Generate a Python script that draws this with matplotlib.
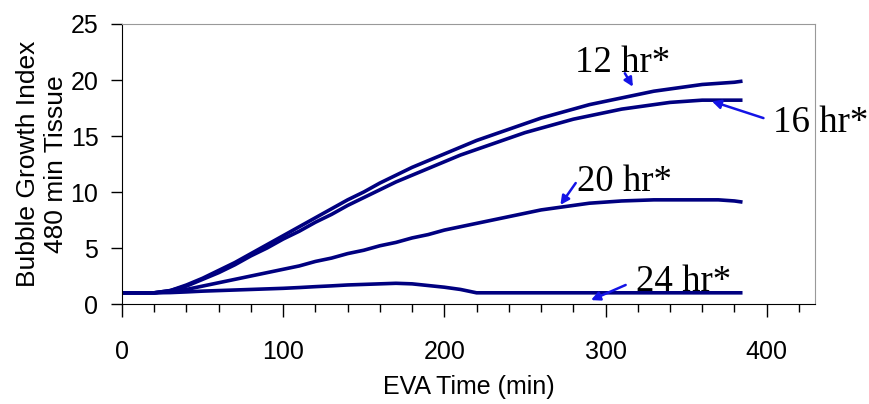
import numpy as np
import matplotlib
matplotlib.use("Agg")
import matplotlib.pyplot as plt
from matplotlib.ticker import MultipleLocator

# EVA time (min)
t = [0, 10, 20, 30, 40, 50, 60, 70, 80, 90, 100, 110, 120, 130, 140, 150, 160, 170, 180, 190,
     200, 210, 220, 230, 240, 250, 260, 270, 280, 290, 300, 310, 320, 330, 340, 350, 360, 370, 380, 385]

bgi_12 = [1.0, 1.0, 1.0, 1.2, 1.7, 2.3, 3.0, 3.7, 4.5, 5.3, 6.1, 6.9, 7.7, 8.5, 9.3, 10.0, 10.8, 11.5, 12.2, 12.8,
          13.4, 14.0, 14.6, 15.1, 15.6, 16.1, 16.6, 17.0, 17.4, 17.8, 18.1, 18.4, 18.7, 19.0, 19.2, 19.4, 19.6, 19.7, 19.8, 19.9]
bgi_16 = [1.0, 1.0, 1.0, 1.2, 1.6, 2.2, 2.8, 3.5, 4.3, 5.0, 5.8, 6.5, 7.3, 8.0, 8.8, 9.5, 10.2, 10.9, 11.5, 12.1,
          12.7, 13.3, 13.8, 14.3, 14.8, 15.3, 15.7, 16.1, 16.5, 16.8, 17.1, 17.4, 17.6, 17.8, 18.0, 18.1, 18.2, 18.2, 18.2, 18.2]
bgi_20 = [1.0, 1.0, 1.0, 1.1, 1.3, 1.6, 1.9, 2.2, 2.5, 2.8, 3.1, 3.4, 3.8, 4.1, 4.5, 4.8, 5.2, 5.5, 5.9, 6.2,
          6.6, 6.9, 7.2, 7.5, 7.8, 8.1, 8.4, 8.6, 8.8, 9.0, 9.1, 9.2, 9.25, 9.3, 9.3, 9.3, 9.3, 9.3, 9.2, 9.1]
bgi_24 = [1.0, 1.0, 1.0, 1.02, 1.08, 1.15, 1.2, 1.25, 1.3, 1.35, 1.4, 1.47, 1.55, 1.62, 1.7, 1.75, 1.8, 1.85, 1.8, 1.65,
          1.5, 1.3, 1.0, 1.0, 1.0, 1.0, 1.0, 1.0, 1.0, 1.0, 1.0, 1.0, 1.0, 1.0, 1.0, 1.0, 1.0, 1.0, 1.0, 1.0]

labels = ["12 hr*", "16 hr*", "20 hr*", "24 hr*"]
label_xy = [(281, 20.7), (404, 15.4), (282, 10.1), (319, 1.2)]
arrow_from = [(312, 20.6), (398, 16.6), (281.5, 10.8), (312.5, 1.7)]
arrow_to = [(317, 19.4), (366, 18.1), (272, 8.85), (291, 0.35)]

line_color = '#000080'
arrow_color = '#1414E6'

fig = plt.figure(figsize=(8.69, 4.04), dpi=100)
ax = fig.add_axes([0.1404, 0.2475, 0.7975, 0.6931])

for series in [bgi_12, bgi_16, bgi_20, bgi_24]:
    ax.plot(t, series, color=line_color, lw=2.6, solid_capstyle='butt')

for lab, (lx, ly), p0, p1 in zip(labels, label_xy, arrow_from, arrow_to):
    ax.text(lx, ly, lab, fontsize=26.5, family='Liberation Serif', ha='left', va='baseline')
    ax.annotate('', xy=p1, xytext=p0,
                arrowprops=dict(arrowstyle='-|>', color=arrow_color, lw=1.8,
                                mutation_scale=13, shrinkA=0, shrinkB=0))

ax.set_xlim(0, 430)
ax.set_ylim(0, 25)
ax.xaxis.set_major_locator(MultipleLocator(100))
ax.xaxis.set_minor_locator(MultipleLocator(20))
ax.yaxis.set_major_locator(MultipleLocator(5))

ax.tick_params(axis='x', which='major', direction='out', length=9, width=1, pad=17)
ax.tick_params(axis='x', which='minor', direction='out', length=6, width=1)
ax.tick_params(axis='y', which='major', direction='out', length=8, width=1, pad=9)
for lab in ax.get_xticklabels() + ax.get_yticklabels():
    lab.set_family('Liberation Sans')
    lab.set_fontsize(18)

ax.spines['top'].set_color('#999999')
ax.spines['right'].set_color('#999999')

ax.set_xlabel('EVA Time (min)', family='Liberation Sans', fontsize=18, labelpad=8)
ax.set_ylabel('Bubble Growth Index\n480 min Tissue', family='Liberation Sans', fontsize=19,
              labelpad=2, linespacing=1.2)

plt.savefig('out.png', dpi=100)
